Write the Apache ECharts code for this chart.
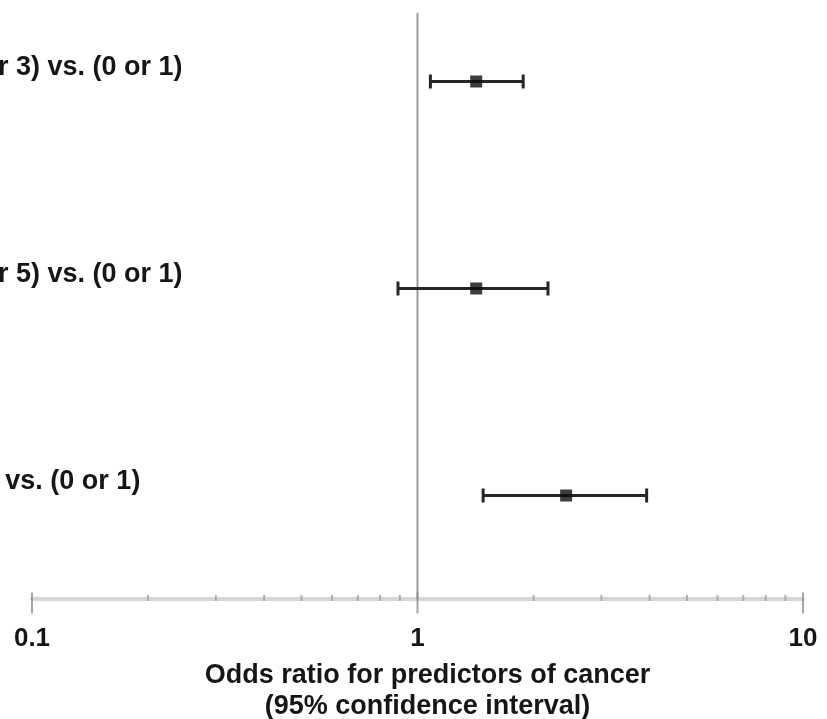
<!DOCTYPE html>
<html>
<head>
<meta charset="utf-8">
<style>
  html, body { margin: 0; padding: 0; background: #fff; }
  #chart { width: 827px; height: 719px; }
</style>
<script src="https://cdn.jsdelivr.net/npm/echarts@6/dist/echarts.min.js"></script>
</head>
<body>
<div id="chart"></div>
<script>
// Comparison rows, listed bottom to top
const rowLabels = ['(≥6) vs. (0 or 1)', '(4 or 5) vs. (0 or 1)', '(2 or 3) vs. (0 or 1)'];
// Odds ratio point estimates and 95% CI bounds
const oddsRatio = [2.43, 1.42, 1.42];
const ciLow = [1.48, 0.89, 1.08];
const ciHigh = [3.93, 2.18, 1.88];
// Log axis decorations
const majorTicks = [0.1, 1, 10];
const minorTicks = [0.2, 0.3, 0.4, 0.5, 0.6, 0.7, 0.8, 0.9, 2, 3, 4, 5, 6, 7, 8, 9];
const refValue = 1;

const FONT = "'Liberation Sans', Arial, sans-serif";
const INK = '#161616';

const chart = echarts.init(document.getElementById('chart'));

const ciData = rowLabels.map((_, i) => [ciLow[i], ciHigh[i], i]);
const pointData = rowLabels.map((_, i) => [oddsRatio[i], i]);

chart.setOption({
  animation: false,
  backgroundColor: '#ffffff',
  grid: [
    // rows band (extends above the canvas so row centres fall evenly)
    { left: 32, right: 24, top: -22, bottom: 120, containLabel: false, outerBoundsMode: 'none' },
    // plot frame for the reference line and the visible axis
    { left: 32, right: 24, top: 13, bottom: 120, containLabel: false, outerBoundsMode: 'none' }
  ],
  xAxis: [
    { type: 'log', logBase: 10, min: 0.1, max: 10, gridIndex: 0, show: false },
    {
      type: 'log', logBase: 10, min: 0.1, max: 10, gridIndex: 1,
      axisLine: { show: true, lineStyle: { color: '#d6d6d6', width: 4 } },
      axisTick: { show: false },
      splitLine: { show: false },
      minorTick: { show: false },
      axisLabel: {
        show: true, margin: 27, color: INK,
        fontFamily: FONT, fontSize: 26, fontWeight: 'bold',
        showMinLabel: true, showMaxLabel: true
      },
      name: 'Odds ratio for predictors of cancer\n(95% confidence interval)',
      nameLocation: 'middle',
      nameGap: 61,
      nameTextStyle: {
        color: INK, fontFamily: FONT, fontSize: 27, fontWeight: 'bold',
        lineHeight: 31, padding: [0, 0, 0, 20]
      }
    }
  ],
  yAxis: [
    {
      type: 'category', gridIndex: 0, data: rowLabels,
      axisLine: { show: false }, axisTick: { show: false }, splitLine: { show: false },
      axisLabel: {
        align: 'left', verticalAlign: 'bottom', margin: 82,
        color: INK, fontFamily: FONT, fontSize: 27, fontWeight: 'bold'
      }
    },
    { type: 'value', gridIndex: 1, min: 0, max: 1, show: false }
  ],
  series: [
    {
      // vertical reference line at OR = 1
      type: 'line', xAxisIndex: 1, yAxisIndex: 1, clip: false, silent: true,
      data: [[refValue, 0], [refValue, 1]],
      symbol: 'none',
      lineStyle: { color: '#9a9a9a', width: 2 },
      z: 1
    },
    {
      // minor ticks of the log axis
      type: 'scatter', xAxisIndex: 1, yAxisIndex: 1, clip: false, silent: true,
      data: minorTicks.map(v => [v, 0]),
      symbol: 'rect', symbolSize: [2, 6], symbolOffset: [0, -1],
      itemStyle: { color: '#a0a0a0' },
      z: 3
    },
    {
      // major ticks of the log axis
      type: 'scatter', xAxisIndex: 1, yAxisIndex: 1, clip: false, silent: true,
      data: majorTicks.map(v => [v, 0]),
      symbol: 'rect', symbolSize: [2, 21], symbolOffset: [0, 4],
      itemStyle: { color: '#8e8e8e' },
      z: 3
    },
    {
      // confidence interval whiskers
      type: 'custom', xAxisIndex: 0, yAxisIndex: 0, clip: false,
      data: ciData,
      encode: { x: [0, 1], y: 2 },
      renderItem: function (params, api) {
        const lo = api.coord([api.value(0), api.value(2)]);
        const hi = api.coord([api.value(1), api.value(2)]);
        const cap = 7;
        const st = { stroke: '#262626', lineWidth: 3 };
        return {
          type: 'group',
          children: [
            { type: 'line', shape: { x1: lo[0], y1: lo[1], x2: hi[0], y2: hi[1] }, style: st },
            { type: 'line', shape: { x1: lo[0], y1: lo[1] - cap, x2: lo[0], y2: lo[1] + cap }, style: st },
            { type: 'line', shape: { x1: hi[0], y1: hi[1] - cap, x2: hi[0], y2: hi[1] + cap }, style: st }
          ]
        };
      },
      z: 4
    },
    {
      // point estimates
      type: 'scatter', xAxisIndex: 0, yAxisIndex: 0, clip: false,
      data: pointData,
      symbol: 'rect', symbolSize: 12,
      itemStyle: { color: '#0c0c0c' },
      z: 5
    }
  ]
});
</script>
</body>
</html>
